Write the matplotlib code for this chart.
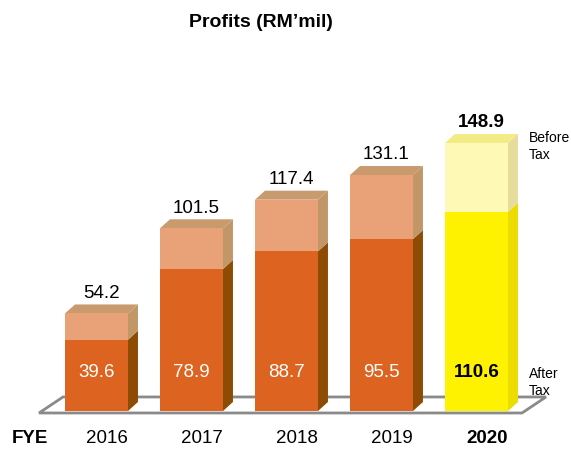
import numpy as np
import matplotlib
matplotlib.use("Agg")
import matplotlib.pyplot as plt
from matplotlib.patches import Polygon

plt.rcParams['font.family'] = ['Liberation Sans', 'DejaVu Sans']

years = ['2016', '2017', '2018', '2019', '2020']
before_tax = [54.2, 101.5, 117.4, 131.1, 148.9]
after_tax = [39.6, 78.9, 88.7, 95.5, 110.6]

# colours: front, side for after-tax / before-tax, and top
orange = dict(lo='#dc6420', lo_side='#8e4b04', hi='#e9a277', hi_side='#c29768', top='#c99a6d')
yellow = dict(lo='#fff200', lo_side='#ecdc00', hi='#fff9b6', hi_side='#e6dd9c', top='#f3eb86')

fig = plt.figure(figsize=(5.71, 4.53), dpi=100)
ax = fig.add_axes([0, 0, 1, 1])
ax.set_xlim(-1.0158, 4.9947)
ax.set_ylim(-23.33, 228.33)
ax.axis('off')

x = np.arange(len(years))
w = 0.663
ddx = 0.105   # depth offset in x units
ddy = 5.0     # depth offset in value units

# floor
floor = Polygon([(-0.605, -1.1), (4.479, -1.1), (4.479 + 0.2526, 7.8), (-0.605 + 0.2526, 7.8)],
                closed=True, facecolor='white', edgecolor='#8a8a8a', lw=2, zorder=1)
ax.add_patch(floor)


def side(ax, xr, y0, y1, color):
    ax.add_patch(Polygon([(xr, y0), (xr + ddx, y0 + ddy), (xr + ddx, y1 + ddy), (xr, y1)],
                         closed=True, facecolor=color, edgecolor='none', zorder=2))


for i, yr in enumerate(years):
    c = yellow if yr == '2020' else orange
    ax.bar(x[i], after_tax[i], width=w, color=c['lo'], zorder=3)
    ax.bar(x[i], before_tax[i] - after_tax[i], bottom=after_tax[i], width=w, color=c['hi'], zorder=3)
    xr = x[i] + w / 2
    xl = x[i] - w / 2
    side(ax, xr, 0, after_tax[i], c['lo_side'])
    side(ax, xr, after_tax[i], before_tax[i], c['hi_side'])
    ax.add_patch(Polygon([(xl, before_tax[i]), (xr, before_tax[i]),
                          (xr + ddx, before_tax[i] + ddy), (xl + ddx, before_tax[i] + ddy)],
                         closed=True, facecolor=c['top'], edgecolor='none', zorder=2))

    bold = yr == '2020'
    ax.text(x[i] + ddx / 2, before_tax[i] + ddy + 1.4, f'{before_tax[i]:.1f}',
            ha='center', va='bottom', fontsize=13.5,
            fontweight='bold' if bold else 'normal', color='black', zorder=5)
    ax.text(x[i], 21.3, f'{after_tax[i]:.1f}', ha='center', va='center', fontsize=13.5,
            fontweight='bold' if bold else 'normal',
            color='black' if bold else 'white', zorder=5)
    ax.text(x[i] + 0.11, -15, yr, ha='center', va='center', fontsize=13.5,
            fontweight='bold' if bold else 'normal', zorder=5)

ax.text(-0.89, -15, 'FYE', ha='left', va='center', fontsize=13.5, fontweight='bold')
ax.text(4.55, 147, 'Before\nTax', ha='left', va='center', fontsize=10, linespacing=1.25)
ax.text(4.55, 16, 'After\nTax', ha='left', va='center', fontsize=10, linespacing=1.25)

fig.text(0.457, 0.951, "Profits (RM\u2019mil)", ha='center', va='center', fontsize=14, fontweight='bold')

fig.savefig('out.png', dpi=100)
